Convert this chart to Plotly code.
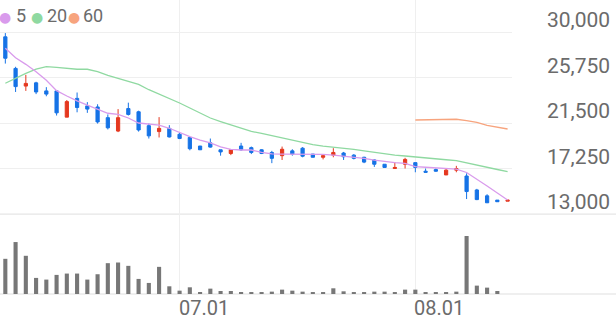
import plotly.graph_objects as go

# ---------------- data ----------------
dates = [
    "2024-06-05", "2024-06-07", "2024-06-10", "2024-06-11", "2024-06-12", "2024-06-13", "2024-06-14",
    "2024-06-17", "2024-06-18", "2024-06-19", "2024-06-20", "2024-06-21", "2024-06-24", "2024-06-25",
    "2024-06-26", "2024-06-27", "2024-06-28",
    "2024-07-01", "2024-07-02", "2024-07-03", "2024-07-04", "2024-07-05", "2024-07-08", "2024-07-09",
    "2024-07-10", "2024-07-11", "2024-07-12", "2024-07-15", "2024-07-16", "2024-07-17", "2024-07-18",
    "2024-07-19", "2024-07-22", "2024-07-23", "2024-07-24", "2024-07-25", "2024-07-26", "2024-07-29",
    "2024-07-30", "2024-07-31",
    "2024-08-01", "2024-08-02", "2024-08-05", "2024-08-06", "2024-08-07", "2024-08-08", "2024-08-09",
    "2024-08-12", "2024-08-13", "2024-08-14",
]

open_ = [29550, 26600, 24950, 25250, 24500, 24500, 22050, 23800, 23100, 23000,
         22000, 20750, 22850, 22550, 21250, 20700, 21000, 20450, 20150, 19350,
         19650, 19000, 18650, 19350, 19200, 19000, 18750, 18450, 18900, 19150,
         18600, 18300, 18500, 18700, 18500, 18300, 18050, 17650, 17250, 17650,
         17800, 17000, 17150, 16650, 17100, 16550, 15250, 14700, 14300, 14200]
high = [29900, 26750, 26000, 25350, 24850, 24500, 23650, 24350, 23450, 23250,
        22300, 22800, 23400, 22650, 21450, 22050, 21300, 20600, 20200, 19350,
        20050, 19000, 19000, 19650, 19300, 19050, 18900, 19300, 19050, 19250,
        18600, 18450, 19150, 18800, 18600, 18350, 18100, 17650, 17850, 18250,
        17800, 17250, 17250, 17200, 17500, 16800, 15350, 14850, 14300, 14300]
low = [27050, 24400, 24500, 24200, 24000, 22200, 22050, 22500, 22450, 21450,
       20900, 20650, 22200, 20700, 20050, 20150, 20150, 20000, 18950, 19000,
       19200, 18450, 18500, 18900, 18600, 18600, 17750, 18050, 18450, 18300,
       18300, 18100, 18300, 18050, 18100, 17750, 17400, 17350, 17250, 17250,
       16900, 16900, 16950, 16650, 16900, 14400, 14300, 14050, 14150, 14200]
close = [27550, 24900, 25200, 24400, 24200, 22450, 23500, 22950, 22800, 21600,
         21050, 22000, 22300, 20850, 20300, 21000, 20200, 20050, 19100, 19000,
         19250, 18800, 19000, 19000, 18750, 18650, 18200, 19050, 18600, 18400,
         18300, 18450, 18750, 18350, 18200, 17850, 17650, 17350, 17350, 18100,
         17350, 16900, 17000, 17100, 17250, 15100, 14350, 14050, 14150, 14300]

volume = [1050, 1550, 1140, 480, 430, 570, 610, 610, 430, 590,
          920, 940, 840, 450, 330, 810, 230, 100, 200, 60,
          160, 90, 90, 60, 50, 50, 70, 130, 100, 70,
          50, 40, 170, 80, 50, 50, 70, 70, 50, 130,
          130, 40, 40, 40, 70, 1730, 250, 190, 90, 0]

ma5 = [28480, 27600, 26980, 26290, 25500, 24520, 24020, 23560, 23180, 22810,
       22410, 22310, 21970, 21500, 21390, 21310, 21010, 20610, 20230, 19910,
       19650, 19280, 19030, 18980, 18980, 18750, 18620, 18600, 18600, 18600,
       18580, 18580, 18510, 18420, 18350, 18190, 18040, 17890, 17810, 17740,
       17420, 17370, 17330, 17270, 17190, 16880, 16270, 15620, 14960, 14310]
ma20 = [25210, 25680, 26140, 26540, 26760, 26700, 26610, 26520, 26520, 26290,
        25940, 25680, 25420, 25100, 24610, 24210, 23790, 23370, 22900, 22430,
        21970, 21640, 21310, 20990, 20710, 20540, 20330, 20150, 19910, 19680,
        19490, 19350, 19260, 19140, 19030, 18890, 18750, 18580, 18510, 18420,
        18350, 18260, 18170, 18070, 17980, 17790, 17580, 17340, 17160, 16950]
ma60_dates = dates[40:]
ma60 = [21780, 21800, 21820, 21840, 21850, 21730, 21550, 21270, 21100, 20940]

price_ticks = [13000, 17250, 21500, 25750, 30000]
price_tick_text = ["13,000", "17,250", "21,500", "25,750", "30,000"]
date_ticks = ["2024-07-01", "2024-08-01"]
date_tick_text = ["07.01", "08.01"]

legend_items = [("5", "#d99bec"), ("20", "#8fd9a1"), ("60", "#f7a47e")]

# ---------------- style ----------------
RED = "#e5381f"
BLUE = "#1673e6"
GRID = "#efefef"
TXT = "#6b6b6b"
FONT = "Roboto"

fig = go.Figure()

fig.add_trace(go.Candlestick(
    x=dates, open=open_, high=high, low=low, close=close,
    increasing=dict(line=dict(color=RED, width=1), fillcolor=RED),
    decreasing=dict(line=dict(color=BLUE, width=1), fillcolor=BLUE),
    whiskerwidth=0, xaxis="x", yaxis="y", hoverinfo="skip",
))
fig.add_trace(go.Scatter(x=dates, y=ma20, mode="lines", line=dict(color=legend_items[1][1], width=1.3),
                         xaxis="x", yaxis="y", hoverinfo="skip"))
fig.add_trace(go.Scatter(x=ma60_dates, y=ma60, mode="lines", line=dict(color=legend_items[2][1], width=1.3),
                         xaxis="x", yaxis="y", hoverinfo="skip"))
fig.add_trace(go.Scatter(x=dates, y=ma5, mode="lines", line=dict(color=legend_items[0][1], width=1.3),
                         xaxis="x", yaxis="y", hoverinfo="skip"))
fig.add_trace(go.Bar(x=dates, y=volume, marker=dict(color="#777777", line=dict(width=0)),
                     width=0.4, xaxis="x", yaxis="y2", hoverinfo="skip"))

PLOT_W = 512
PLOT_H = 294
price_dom = [0.272, 1.0]

annotations = []
for v, t in zip(price_ticks, price_tick_text):
    annotations.append(dict(x=612 / PLOT_W, y=v, xref="paper", yref="y", text=t, showarrow=False,
                            xanchor="right", yanchor="bottom", yshift=-2,
                            font=dict(family=FONT, size=21, color=TXT)))
for d, t in zip(date_ticks, date_tick_text):
    annotations.append(dict(x=d, y=0, xref="x", yref="paper", text=t, showarrow=False,
                            xanchor="left", yanchor="top", xshift=-3, yshift=0,
                            font=dict(family=FONT, size=20, color=TXT)))

# legend (dots + labels)
leg_dot_x = [5, 36.7, 74]
leg_txt_x = [14, 44.5, 81]
for (label, col), dx, tx in zip(legend_items, leg_dot_x, leg_txt_x):
    annotations.append(dict(x=dx / PLOT_W, y=1 - 17 / PLOT_H, xref="paper", yref="paper", text="●",
                            showarrow=False, xanchor="center", yanchor="middle",
                            font=dict(family="DejaVu Sans", size=14, color=col)))
    annotations.append(dict(x=tx / PLOT_W, y=1 - 16 / PLOT_H, xref="paper", yref="paper", text=label,
                            showarrow=False, xanchor="left", yanchor="middle",
                            font=dict(family=FONT, size=18, color=TXT)))

shapes = [
    dict(type="line", xref="paper", yref="paper", x0=0, x1=616 / PLOT_W, y0=price_dom[0], y1=price_dom[0],
         line=dict(color="#e6e6e6", width=1.2), layer="below"),
    dict(type="line", xref="paper", yref="paper", x0=0, x1=616 / PLOT_W, y0=0, y1=0,
         line=dict(color="#e0e0e0", width=1.2), layer="below"),
]

fig.update_layout(
    width=616, height=321,
    margin=dict(l=0, r=616 - PLOT_W, t=0, b=321 - PLOT_H),
    paper_bgcolor="white", plot_bgcolor="white",
    showlegend=False,
    boxgap=0.55,
    font=dict(family=FONT),
    xaxis=dict(type="category", range=[-0.52, 49.43], tickvals=date_ticks, showticklabels=False,
               ticks="", showgrid=True, gridcolor=GRID, gridwidth=1, zeroline=False, showline=False,
               rangeslider=dict(visible=False), anchor="y2", fixedrange=True),
    yaxis=dict(domain=price_dom, range=[13000, 32989], tickvals=price_ticks, showticklabels=False,
               ticks="", showgrid=True, gridcolor=GRID, gridwidth=1, zeroline=False, showline=False,
               anchor="x", fixedrange=True),
    yaxis2=dict(domain=[0, price_dom[0]], range=[0, 1730 * 80 / 58], showgrid=False, showticklabels=False,
                ticks="", zeroline=False, showline=False, anchor="x", fixedrange=True),
    annotations=annotations,
    shapes=shapes,
)

fig.write_html("out.html")
